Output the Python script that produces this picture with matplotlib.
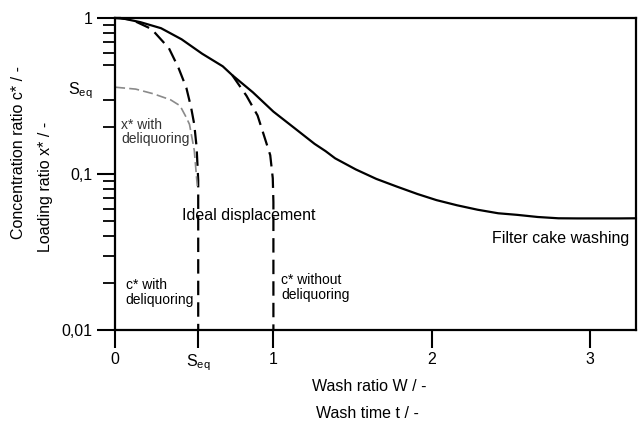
import matplotlib.pyplot as plt
from matplotlib.ticker import NullFormatter, FixedLocator

plt.rcParams['font.family'] = ['Liberation Sans', 'DejaVu Sans']
plt.rcParams['mathtext.fontset'] = 'custom'
plt.rcParams['mathtext.rm'] = 'Liberation Sans'

# Werte
S_EQ_X = 0.525   # Waschverhältnis bei S_eq
S_EQ_Y = 0.36    # Sättigung S_eq auf der y-Achse

# Filterkuchenwäsche (durchgezogen)
cake_w = [0, 0.034, 0.16, 0.29, 0.42, 0.55, 0.68, 0.74, 0.87, 1.00, 1.13, 1.26, 1.33,
          1.39, 1.52, 1.65, 1.78, 1.91, 2.03, 2.16, 2.29, 2.42, 2.54, 2.67, 2.80,
          2.92, 3.05, 3.18, 3.29]
cake_c = [1.0, 1.0, 0.94, 0.86, 0.73, 0.59, 0.49, 0.43, 0.334, 0.251, 0.198, 0.156, 0.14,
          0.126, 0.107, 0.093, 0.083, 0.0744, 0.068, 0.063, 0.059, 0.056, 0.0547, 0.053,
          0.052, 0.0519, 0.0519, 0.0519, 0.052]

# ideale Verdrängung mit Entfeuchtung (gestrichelt)
ideal_deliq_w = [0, 0.10, 0.23, 0.34, 0.40, 0.45, 0.48, 0.50, 0.515, 0.525, 0.525, 0.525]
ideal_deliq_c = [1.0, 0.98, 0.85, 0.64, 0.48, 0.357, 0.267, 0.208, 0.148, 0.091, 0.065, 0.01]

# ideale Verdrängung ohne Entfeuchtung (gestrichelt)
ideal_w = [0.74, 0.83, 0.90, 0.94, 0.98, 0.996, 1.0, 1.0]
ideal_c = [0.43, 0.317, 0.237, 0.177, 0.132, 0.094, 0.066, 0.01]

# Beladung x* mit Entfeuchtung (grau)
load_w = [0, 0.13, 0.24, 0.35, 0.41, 0.45, 0.47, 0.50, 0.52]
load_x = [0.36, 0.35, 0.327, 0.299, 0.274, 0.23, 0.208, 0.142, 0.082]

x_ticks = [0, S_EQ_X, 1, 2, 3]
x_tick_labels = ['0', r'S$_\mathregular{eq}$', '1', '2', '3']
y_ticks = [0.01, 0.1, S_EQ_Y, 1]
y_tick_labels = ['0,01', '0,1', r'S$_\mathregular{eq}$', '1']

fig = plt.figure(figsize=(6.43, 4.28), dpi=100)
ax = fig.add_axes([0.179, 0.229, 0.810, 0.729])

ax.plot(cake_w, cake_c, color='black', lw=1.6, clip_on=False)
ax.plot(ideal_deliq_w, ideal_deliq_c, color='black', lw=1.6, dashes=(6.5, 3.2))
ax.plot(ideal_w, ideal_c, color='black', lw=1.6, dashes=(6.5, 3.2))
ax.plot(load_w, load_x, color='#8a8a8a', lw=1.2, dashes=(6, 2.5))

ax.set_yscale('log')
ax.set_xlim(0, 3.29)
ax.set_ylim(0.01, 1)

ax.set_xticks(x_ticks)
ax.set_xticklabels(x_tick_labels)
ax.set_yticks(y_ticks)
ax.set_yticklabels(y_tick_labels)
ax.yaxis.set_minor_locator(FixedLocator([0.02, 0.03, 0.04, 0.05, 0.06, 0.07, 0.08, 0.09,
                                         0.2, 0.3, 0.5, 0.6, 0.7, 0.8, 0.9]))
ax.yaxis.set_minor_formatter(NullFormatter())
ax.yaxis.get_major_ticks()[2].tick1line.set_visible(False)

ax.tick_params(axis='both', which='major', direction='out', length=13, width=1.5,
               labelsize=11.5, pad=3)
ax.tick_params(axis='y', which='minor', direction='out', length=9, width=1.3)
for sp in ax.spines.values():
    sp.set_linewidth(1.6)

ax.text(0.04, 0.23, 'x* with\ndeliquoring', fontsize=10, va='top', color='#333333',
        linespacing=1.05)
ax.text(0.066, 0.0215, 'c* with\ndeliquoring', fontsize=10, va='top', linespacing=1.05)
ax.text(1.05, 0.0232, 'c* without\ndeliquoring', fontsize=10, va='top', linespacing=1.05)
ax.text(0.42, 0.0539, 'Ideal displacement', fontsize=11.5, va='center')
ax.text(2.38, 0.0387, 'Filter cake washing', fontsize=11.5, va='center')

fig.text(0.028, 0.643, 'Concentration ratio c* / -', rotation=90, fontsize=11.5,
         ha='center', va='center')
fig.text(0.070, 0.563, 'Loading ratio x* / -', rotation=90, fontsize=11.5,
         ha='center', va='center')
fig.text(0.575, 0.096, 'Wash ratio W / -', fontsize=11.5, ha='center', va='center')
fig.text(0.571, 0.035, 'Wash time t / -', fontsize=11.5, ha='center', va='center')

fig.savefig('out.png', dpi=100)
